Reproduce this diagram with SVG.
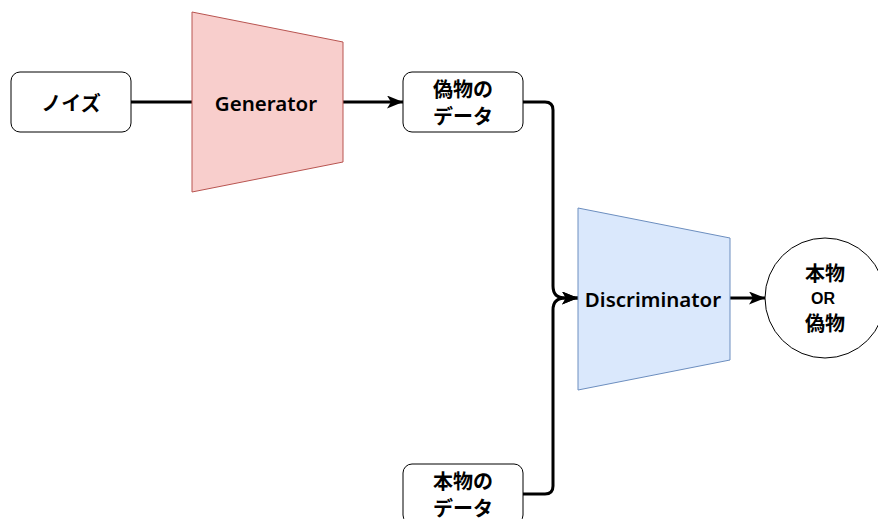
<svg xmlns="http://www.w3.org/2000/svg" width="878" height="519" viewBox="0 0 878 519">
<style>
.box{fill:#ffffff;stroke:#000000;stroke-width:1}
.t{font-family:"Noto Sans","Noto Sans CJK JP",sans-serif;font-size:20.5px;font-weight:600;fill:#000;text-anchor:middle;dominant-baseline:central}
.tj{font-family:"Noto Sans CJK JP",sans-serif;font-size:20px;font-weight:bold;fill:#000;text-anchor:middle;dominant-baseline:central}
.or{font-family:"Liberation Sans",sans-serif;font-size:16px;font-weight:bold;fill:#000;text-anchor:middle;dominant-baseline:central}
.edge{fill:none;stroke:#000;stroke-width:3}
</style>
<defs>
<marker id="arr" viewBox="0 0 16 13" refX="16" refY="6.5" markerWidth="16" markerHeight="13" markerUnits="userSpaceOnUse" orient="auto">
<path d="M0,0 L16,6.5 L0,13 L4,6.5 Z" fill="#000"/>
</marker>
</defs>
<rect width="878" height="519" fill="#ffffff"/>
<g id="connectors">
<path class="edge" d="M131,102 L192,102"/>
<path class="edge" d="M343,102 L403,102" marker-end="url(#arr)"/>
<path class="edge" d="M523,102 L545,102 Q553,102 553,110 L553,286 Q553,298 565,298 L578,298" marker-end="url(#arr)"/>
<path class="edge" d="M523,494 L545,494 Q553,494 553,486 L553,310 Q553,298 565,298 L578,298" marker-end="url(#arr)"/>
<path class="edge" d="M730,298 L765,298" marker-end="url(#arr)"/>
</g>
<g id="noise">
<rect class="box" x="11" y="72" width="120" height="60" rx="9"/>
<text class="tj" x="71" y="102">ノイズ</text>
</g>
<g id="generator">
<path d="M192,12 L343,42 L343,162 L192,192 Z" fill="#f8cecc" stroke="#b85450" stroke-width="1"/>
<text class="t" x="266" y="103">Generator</text>
</g>
<g id="fake-data">
<rect class="box" x="403" y="72" width="120" height="60" rx="9"/>
<text class="tj" x="463" y="88">偽物の</text>
<text class="tj" x="463" y="115">データ</text>
</g>
<g id="discriminator">
<path d="M578,208 L730,238 L730,360 L578,390 Z" fill="#dae8fc" stroke="#6c8ebf" stroke-width="1"/>
<text class="t" x="653" y="299">Discriminator</text>
</g>
<g id="result">
<circle cx="825" cy="298" r="60" fill="#ffffff" stroke="#000" stroke-width="1"/>
<text class="tj" x="825" y="272">本物</text>
<text class="or" x="823" y="298">OR</text>
<text class="tj" x="825" y="322">偽物</text>
</g>
<g id="real-data">
<rect class="box" x="403" y="464" width="120" height="60" rx="9"/>
<text class="tj" x="463" y="480">本物の</text>
<text class="tj" x="463" y="507">データ</text>
</g>
</svg>
